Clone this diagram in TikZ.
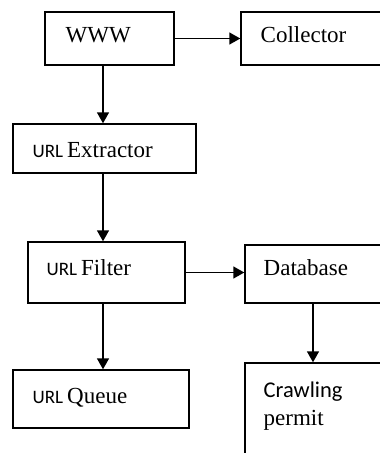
\documentclass[tikz,border=0pt]{standalone}
\usepackage{fontspec}
\setmainfont{Liberation Serif}
\newfontfamily\calfont{Carlito}
\usetikzlibrary{arrows.meta}
\newcommand{\sm}{\calfont\fontsize{19}{23}\selectfont}
\begin{document}
\begin{tikzpicture}[x=1pt,y=-1pt,>={Triangle[length=11pt,width=12pt]},line width=1.4pt,
	box/.style={draw,rectangle,inner sep=0pt},
	lbl/.style={anchor=base west,inner sep=0pt,font=\fontsize{23}{27}\selectfont}]
	\useasboundingbox (0,0) rectangle (380,453);
	\clip (0,0) rectangle (380,453);
	% boxes
	\node[box,minimum width=129,minimum height=53] (www) at (109.5,38.5) {};
	\node[box,minimum width=140,minimum height=53] (coll) at (311,38.5) {};
	\node[box,minimum width=183,minimum height=49] (ext) at (104.5,148.5) {};
	\node[box,minimum width=157,minimum height=61] (filt) at (106.5,272.5) {};
	\node[box,minimum width=136,minimum height=58] (db) at (313,274) {};
	\node[box,minimum width=176,minimum height=58] (queue) at (101,399) {};
	\node[box,minimum width=136,minimum height=117] (crawl) at (313,421.5) {};
	% texts
	\node[lbl] (twww) at (65,42) {WWW};
	\node[lbl] (tcoll) at (260,42) {Collector};
	\node[lbl] (text) at (32,157) {{\sm URL}\hspace{4pt}Extractor};
	\node[lbl] (tfilt) at (46,275) {{\sm URL}\hspace{4pt}Filter};
	\node[lbl] (tdb) at (263,275) {Database};
	\node[lbl] (tqueue) at (32,403) {{\sm URL}\hspace{4pt}Queue};
	\node[lbl] (tcrawl) at (263,397) {\calfont\fontsize{22.5}{27}\selectfont Crawling};
	\node[lbl] (tperm) at (263,425) {permit};
	% arrows
	\coordinate (c) at (103,0);
	\draw[->] (www.east) -- (www.east -| coll.west);
	\draw[->] (www.south -| c) -- (ext.north -| c);
	\draw[->] (ext.south -| c) -- (filt.north -| c);
	\draw[->] (filt.south -| c) -- (queue.north -| c);
	\draw[->] (filt.east) -- (filt.east -| db.west);
	\draw[->] (db.south) -- (crawl.north);
\end{tikzpicture}
\end{document}
